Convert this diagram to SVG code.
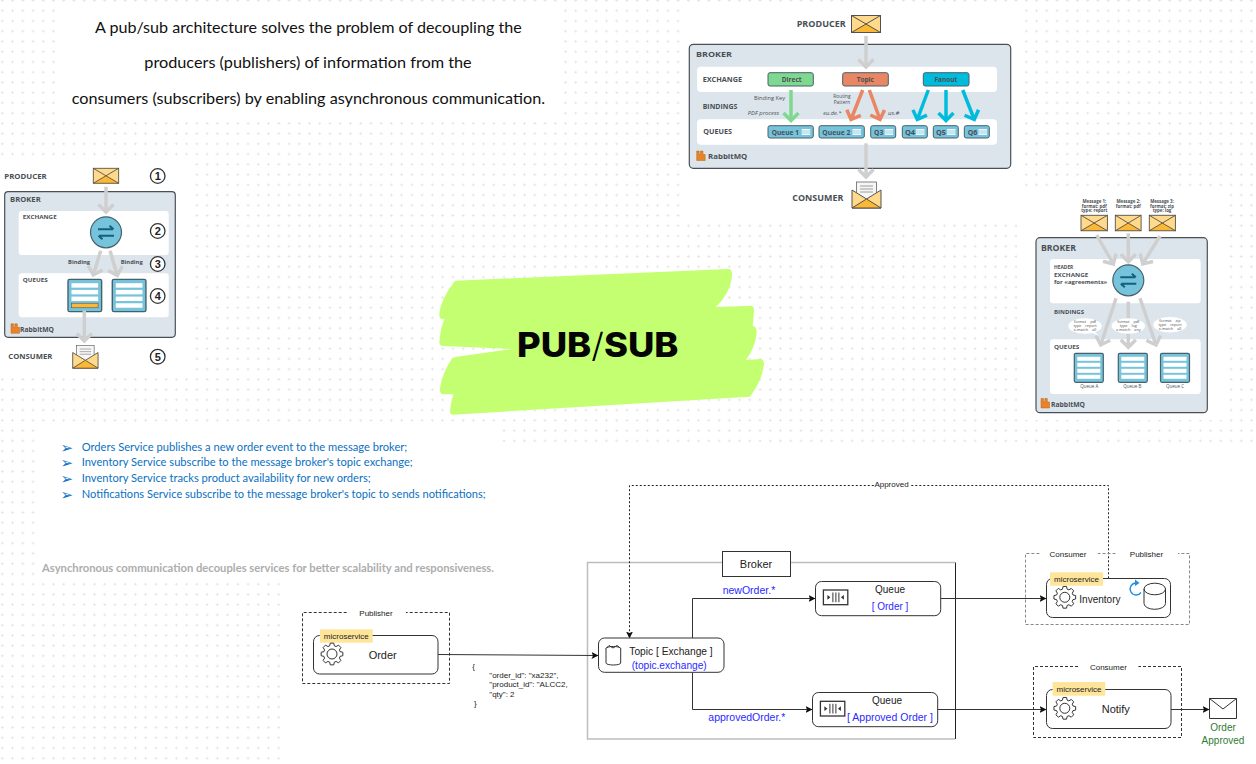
<svg xmlns="http://www.w3.org/2000/svg" width="1256" height="764" viewBox="0 0 1256 764">
<style>
.calibri{font-family:"Lato","Open Sans",sans-serif}
.sm{font-family:"Open Sans","Liberation Sans",sans-serif;font-weight:700;fill:#4a4f55}
.smr{font-family:"Open Sans","Liberation Sans",sans-serif;font-weight:400;fill:#4a4f55}
.lib{font-family:"Liberation Sans",Arial,sans-serif;fill:#222}
.blue{fill:#2a2aff}
.ctr{text-anchor:middle}
.broker{fill:#dde5ec;stroke:#4a4f55;stroke-width:1.2}
.band{fill:#fff}
.g{fill:none;stroke:#cfcfcf;stroke-width:3.500}
.ag{fill:none;stroke:#7fd88f;stroke-width:3.500}
.ao{fill:none;stroke:#e98663;stroke-width:3.500}
.ac{fill:none;stroke:#00bcdc;stroke-width:3.500}
.qbox{fill:#76c3dc;stroke:#47606a;stroke-width:1.2}
.wrow{fill:#fff}
.chip{fill:#76c3dc;stroke:#47606a;stroke-width:1}
.node{fill:#fff;stroke:#333;stroke-width:1}
.tag{fill:#ffe59a}
.wire{fill:none;stroke:#333;stroke-width:1}
.dash{fill:none;stroke:#333;stroke-width:1;stroke-dasharray:3 2}
.dashl{fill:none;stroke:#888;stroke-width:1;stroke-dasharray:3 2}
.dot{fill:none;stroke:#222;stroke-width:1;stroke-dasharray:2 2}
.ic{fill:none;stroke:#333;stroke-width:1}
.bul{font-family:"DejaVu Sans",sans-serif;font-size:15px}
</style>
<defs>
<pattern id="plus" width="10.24" height="10.24" patternUnits="userSpaceOnUse" patternTransform="translate(-2.82 -4.62)">
<path d="M5.12 3.62V6.62M3.62 5.12H6.62" stroke="#e6e6e6" stroke-width="1" fill="none"/>
</pattern>
<marker id="cg" markerUnits="userSpaceOnUse" markerWidth="11" markerHeight="18" viewBox="0 0 11 18" refX="9" refY="9" orient="auto" overflow="visible"><path d="M1.500 1.500L9 9L1.500 16.500" fill="none" stroke="#cfcfcf" stroke-width="3.500"/></marker>
<marker id="cgreen" markerUnits="userSpaceOnUse" markerWidth="11" markerHeight="18" viewBox="0 0 11 18" refX="9" refY="9" orient="auto" overflow="visible"><path d="M1.500 1.500L9 9L1.500 16.500" fill="none" stroke="#7fd88f" stroke-width="3.500"/></marker>
<marker id="cor" markerUnits="userSpaceOnUse" markerWidth="11" markerHeight="18" viewBox="0 0 11 18" refX="9" refY="9" orient="auto" overflow="visible"><path d="M1.500 1.500L9 9L1.500 16.500" fill="none" stroke="#e98663" stroke-width="3.500"/></marker>
<marker id="ccy" markerUnits="userSpaceOnUse" markerWidth="11" markerHeight="18" viewBox="0 0 11 18" refX="9" refY="9" orient="auto" overflow="visible"><path d="M1.500 1.500L9 9L1.500 16.500" fill="none" stroke="#00bcdc" stroke-width="3.500"/></marker>
<marker id="tri" markerUnits="userSpaceOnUse" markerWidth="7" markerHeight="7" viewBox="0 0 7 7" refX="6.500" refY="3.500" orient="auto"><path d="M0 0L7 3.500L0 7L1.500 3.500Z" fill="#111"/></marker>
<g id="env">
<rect x="0" y="0" width="29" height="17" fill="#ffd98c"/>
<path d="M0 17L14.500 8.500L29 17Z" fill="#fdb833"/>
<path d="M0 0L29 17M29 0L0 17" fill="none" stroke="#55504a" stroke-width="1"/>
<rect x="0" y="0" width="29" height="17" fill="none" stroke="#55504a" stroke-width="1"/>
</g>
<g id="envopen">
<rect x="4.500" y="-8" width="20" height="17" fill="#f6f6f6" stroke="#666" stroke-width=".8"/>
<path d="M8 -4H21M8 -1H21M8 2H21" stroke="#888" stroke-width=".8"/>
<path d="M0 0V18H29V0L14.500 9Z" fill="#ffd98c" stroke="#55504a" stroke-width="1"/>
<path d="M0 18L14.500 9L29 18Z" fill="#fdb833" stroke="#55504a" stroke-width="1"/>
</g>
<g id="swap">
<circle r="15.500" fill="#76c3dc" stroke="#47606a" stroke-width="1.200"/>
<path d="M-8 -3H7M3.500 -6.500L7.500 -3M8 3.500H-7M-3.500 7L-7.500 3.500" fill="none" stroke="#12607a" stroke-width="2"/>
</g>
<g id="rabbit"><path d="M0 0H2.500V3.500H3.800V0H6.300V3.500H8.500V9.500H0Z" fill="#e8832a" stroke="#b86519" stroke-width=".5"/></g>
<g id="queueimg">
<rect width="29" height="29" rx="1.500" class="qbox"/>
<rect x="3" y="3.500" width="23" height="4" class="wrow"/><rect x="3" y="9.500" width="23" height="4" class="wrow"/><rect x="3" y="15.500" width="23" height="4" class="wrow"/><rect x="3" y="21.500" width="23" height="4" class="wrow"/>
</g>
<g id="chiplines"><path d="M0 0H8.500V6H0Z" fill="#fff" opacity=".85"/><path d="M0 2H8.500M0 4H8.500" stroke="#76c3dc" stroke-width=".6"/></g>
<g id="gear">
<path d="M8.170 -2.340L10.860 -1.720L10.860 1.720L8.170 2.340L7.430 4.120L8.900 6.470L6.470 8.900L4.120 7.430L2.340 8.170L1.720 10.860L-1.720 10.860L-2.340 8.170L-4.120 7.430L-6.470 8.900L-8.900 6.470L-7.430 4.120L-8.170 2.340L-10.860 1.720L-10.860 -1.720L-8.170 -2.340L-7.430 -4.120L-8.900 -6.470L-6.470 -8.900L-4.120 -7.430L-2.340 -8.170L-1.720 -10.860L1.720 -10.860L2.340 -8.170L4.120 -7.430L6.470 -8.900L8.900 -6.470L7.430 -4.120Z" class="ic"/>
<circle r="5" class="ic"/>
</g>
<g id="qicon">
<rect width="24.400" height="14.700" class="ic" style="stroke-width:1.300"/>
<path d="M4 5L7 7.350L4 9.700Z" fill="#333"/><path d="M20.500 5L17.500 7.350L20.500 9.700Z" fill="#333"/>
<path d="M9.500 2.500V12.200M12.500 2.500V12.200M15.500 2.500V12.200" class="ic"/>
</g>
</defs>
<rect width="1256" height="764" fill="#fff"/>
<rect width="1256" height="764" fill="url(#plus)"/>
<g id="white-panels" fill="#fff">
<rect x="60" y="5" width="500" height="110"/>
<rect x="0" y="160" width="195" height="215"/>
<rect x="680" y="5" width="342" height="212"/>
<rect x="1017" y="190" width="211" height="230"/>
<rect x="36" y="427" width="464" height="155"/>
<rect x="285" y="447" width="971" height="317"/>
</g>

<g id="intro-text" class="calibri" font-size="16" fill="#111">
<text x="95" y="33.300" textLength="426.700" lengthAdjust="spacingAndGlyphs">A pub/sub architecture solves the problem of decoupling the</text>
<text x="144.300" y="68.300" textLength="327.400" lengthAdjust="spacingAndGlyphs">producers (publishers) of information from the</text>
<text x="71.700" y="104" textLength="473.300" lengthAdjust="spacingAndGlyphs">consumers (subscribers) by enabling asynchronous communication.</text>
</g>

<g id="bullets" class="calibri" font-size="11.500" fill="#0a70c2">
<text class="bul" x="60.500" y="452.500">➢</text><text x="81.700" y="450.700" textLength="325.600" lengthAdjust="spacingAndGlyphs">Orders Service publishes a new order event to the message broker;</text>
<text class="bul" x="60.500" y="468">➢</text><text x="81.700" y="466.300" textLength="331" lengthAdjust="spacingAndGlyphs">Inventory Service subscribe to the message broker's topic exchange;</text>
<text class="bul" x="60.500" y="484">➢</text><text x="81.700" y="482" textLength="289" lengthAdjust="spacingAndGlyphs">Inventory Service tracks product availability for new orders;</text>
<text class="bul" x="60.500" y="499.500">➢</text><text x="81.700" y="497.700" textLength="404" lengthAdjust="spacingAndGlyphs">Notifications Service subscribe to the message broker's topic to sends notifications;</text>
</g>
<text id="async-note" class="calibri" x="42" y="571.700" font-size="11" font-weight="700" fill="#adadad" textLength="452" lengthAdjust="spacingAndGlyphs">Asynchronous communication decouples services for better scalability and responsiveness.</text>

<g id="title">
<path transform="translate(430 265) scale(.3333)" fill="#c4ff72" d="M75 47L895 12Q908 12 906 35Q900 85 858 126L600 135L965 122Q973 124 972 140Q970 170 968 182Q982 185 980 205Q975 250 948 285L992 282Q1003 283 1002 300Q995 350 960 395L70 449Q60 450 60 438Q62 415 70 388L42 388Q28 388 30 370Q36 325 65 282Q70 276 80 275L245 252L40 243Q28 243 28 232Q30 195 43 162L35 162Q27 160 28 145Q33 100 75 47Z"/>
<text x="517" y="356.700" font-family="Inter,'Liberation Sans',sans-serif" font-size="33.500" font-weight="800" fill="#050505" textLength="161.500" lengthAdjust="spacingAndGlyphs">PUB<tspan font-weight="300">/</tspan>SUB</text>
</g>

<g id="rabbit-top">
<text class="sm" x="796.700" y="26.500" font-size="8" textLength="49" lengthAdjust="spacingAndGlyphs">PRODUCER</text>
<use href="#env" x="851.500" y="15.500"/>
<rect class="broker" x="689.300" y="44.300" width="321.400" height="124" rx="4"/>
<rect class="band" x="697" y="66.700" width="300" height="25.300" rx="4"/>
<rect class="band" x="697" y="119.300" width="300" height="25.400" rx="4"/>
<text class="sm" x="696" y="57.300" font-size="7.500" textLength="36" lengthAdjust="spacingAndGlyphs">BROKER</text>
<text class="sm" x="702.700" y="82" font-size="6.500" textLength="39.300" lengthAdjust="spacingAndGlyphs">EXCHANGE</text>
<text class="sm" x="702.700" y="108.700" font-size="6.500" textLength="34.600" lengthAdjust="spacingAndGlyphs">BINDINGS</text>
<text class="sm" x="703.300" y="134" font-size="6.500" textLength="28.700" lengthAdjust="spacingAndGlyphs">QUEUES</text>
<path class="g" d="M866 36V67" marker-end="url(#cg)"/>
<path class="ag" d="M791 90V120.500" marker-end="url(#cgreen)"/>
<path class="ao" d="M862.700 90L851 119.500" marker-end="url(#cor)"/>
<path class="ao" d="M869.300 90L880 119.500" marker-end="url(#cor)"/>
<path class="ac" d="M928.300 90L917.300 119.500" marker-end="url(#ccy)"/>
<path class="ac" d="M946 90V120.500" marker-end="url(#ccy)"/>
<path class="ac" d="M962.700 90L974.300 119.500" marker-end="url(#ccy)"/>
<rect x="768" y="72.700" width="45.300" height="13.300" rx="2" fill="#7fd88f" stroke="#47606a"/>
<rect x="842.700" y="72.700" width="45.600" height="13.300" rx="2" fill="#e98663" stroke="#47606a"/>
<rect x="923.300" y="72.700" width="45.700" height="13.300" rx="2" fill="#00bcdc" stroke="#47606a"/>
<text class="sm ctr" x="791.700" y="82.300" font-size="6.500">Direct</text>
<text class="sm ctr" x="865.300" y="82.300" font-size="6.500">Topic</text>
<text class="sm ctr" x="946" y="82.300" font-size="6.500">Fanout</text>
<text class="smr" x="754" y="99.500" font-size="4.800" textLength="31" lengthAdjust="spacingAndGlyphs">Binding Key</text>
<text class="smr" x="747.700" y="115" font-size="4.800" font-style="italic" textLength="31.300" lengthAdjust="spacingAndGlyphs">PDF process</text>
<text class="smr ctr" x="842" y="97.800" font-size="4.800">Routing</text>
<text class="smr ctr" x="842" y="104.200" font-size="4.800">Pattern</text>
<text class="smr" x="823.300" y="115" font-size="4.800" font-style="italic" textLength="18" lengthAdjust="spacingAndGlyphs">eu.de.*</text>
<text class="smr" x="888" y="115" font-size="4.800" font-style="italic" textLength="11.300" lengthAdjust="spacingAndGlyphs">us.#</text>
<rect class="chip" x="768" y="125.700" width="45.300" height="12.300" rx="2"/><text class="sm" x="771.700" y="134.500" font-size="6.500" textLength="27.300" lengthAdjust="spacingAndGlyphs">Queue 1</text><use href="#chiplines" x="801.700" y="129"/>
<rect class="chip" x="819" y="125.700" width="45.300" height="12.300" rx="2"/><text class="sm" x="822.300" y="134.500" font-size="6.500" textLength="28" lengthAdjust="spacingAndGlyphs">Queue 2</text><use href="#chiplines" x="852.500" y="129"/>
<rect class="chip" x="870.700" y="125.700" width="25" height="12.300" rx="2"/><text class="sm" x="874" y="134.500" font-size="6.500" textLength="9.300" lengthAdjust="spacingAndGlyphs">Q3</text><use href="#chiplines" x="884.700" y="129"/>
<rect class="chip" x="902.300" y="125.700" width="25" height="12.300" rx="2"/><text class="sm" x="905" y="134.500" font-size="6.500" textLength="10" lengthAdjust="spacingAndGlyphs">Q4</text><use href="#chiplines" x="916" y="129"/>
<rect class="chip" x="933.300" y="125.700" width="25" height="12.300" rx="2"/><text class="sm" x="936" y="134.500" font-size="6.500" textLength="10" lengthAdjust="spacingAndGlyphs">Q5</text><use href="#chiplines" x="947" y="129"/>
<rect class="chip" x="964.300" y="125.700" width="25" height="12.300" rx="2"/><text class="sm" x="967.700" y="134.500" font-size="6.500" textLength="9.600" lengthAdjust="spacingAndGlyphs">Q6</text><use href="#chiplines" x="978.500" y="129"/>
<use href="#rabbit" x="696.700" y="151"/>
<text class="sm" x="708" y="159" font-size="7.500" textLength="39.300" lengthAdjust="spacingAndGlyphs">RabbitMQ</text>
<path class="g" d="M866 143.300V177" marker-end="url(#cg)"/>
<use href="#envopen" x="852" y="190"/>
<text class="sm" x="792.300" y="200.700" font-size="8" textLength="51" lengthAdjust="spacingAndGlyphs">CONSUMER</text>
</g>

<g id="rabbit-left">
<text class="sm" x="4.300" y="178.500" font-size="7" textLength="42.400" lengthAdjust="spacingAndGlyphs">PRODUCER</text>
<use href="#env" transform="translate(93.300 168.300) scale(.875 .88)"/>
<rect class="broker" x="4.700" y="191.700" width="170.600" height="145.600" rx="3.500"/>
<rect class="band" x="18.700" y="211" width="150" height="44" rx="3"/>
<rect class="band" x="18.700" y="273.300" width="150" height="44" rx="3"/>
<text class="sm" x="10" y="202" font-size="6.500" textLength="30.700" lengthAdjust="spacingAndGlyphs">BROKER</text>
<text class="sm" x="22.700" y="218.500" font-size="5.500" textLength="34" lengthAdjust="spacingAndGlyphs">EXCHANGE</text>
<text class="sm" x="68" y="264" font-size="5.500" textLength="22" lengthAdjust="spacingAndGlyphs">Binding</text>
<text class="sm" x="120.700" y="264" font-size="5.500" textLength="22" lengthAdjust="spacingAndGlyphs">Binding</text>
<text class="sm" x="22.700" y="281.500" font-size="5.500" textLength="25" lengthAdjust="spacingAndGlyphs">QUEUES</text>
<path class="g" d="M106 186.700V212" marker-end="url(#cg)"/>
<use href="#swap" x="106" y="232.300"/>
<path class="g" d="M100.700 250.700L93.300 275" marker-end="url(#cg)"/>
<path class="g" d="M110 250.700L117.300 275.500" marker-end="url(#cg)"/>
<g transform="translate(68 279.300) scale(1.160 1.115)"><use href="#queueimg"/><rect x="3" y="21.500" width="23" height="4" fill="#fdb833" stroke="#47606a" stroke-width=".6"/></g>
<use href="#queueimg" transform="translate(112.300 279.300) scale(1.160 1.115)"/>
<use href="#rabbit" x="11" y="323.800"/>
<text class="sm" x="20" y="331.700" font-size="6.500" textLength="34" lengthAdjust="spacingAndGlyphs">RabbitMQ</text>
<path class="g" d="M84.300 310.700V341" marker-end="url(#cg)"/>
<use href="#envopen" transform="translate(72.700 352.500) scale(.875 .87)"/>
<text class="sm" x="8.300" y="359" font-size="7" textLength="44" lengthAdjust="spacingAndGlyphs">CONSUMER</text>
<g fill="#fff" stroke="#333" stroke-width="1.300"><circle cx="157.700" cy="176" r="7.300"/><circle cx="157.700" cy="231" r="7.300"/><circle cx="157.700" cy="264" r="7.300"/><circle cx="157.700" cy="296" r="7.300"/><circle cx="157.700" cy="356.700" r="7.300"/></g>
<g class="lib ctr" font-size="11" font-weight="700"><text x="157.700" y="180">1</text><text x="157.700" y="235">2</text><text x="157.700" y="268">3</text><text x="157.700" y="300">4</text><text x="157.700" y="360.700">5</text></g>
</g>

<g id="rabbit-right">
<g class="sm ctr" font-size="4.400">
<text x="1094.300" y="203">Message 1:</text><text x="1094.300" y="207.800">format: pdf</text><text x="1094.300" y="212.400">type: report</text>
<text x="1128.300" y="203">Message 2:</text><text x="1128.300" y="207.800">format: pdf</text>
<text x="1162" y="203">Message 3:</text><text x="1162" y="207.800">format: zip</text><text x="1162" y="212.400">type: log</text>
</g>
<use href="#env" transform="translate(1081 215.300) scale(.91)"/>
<use href="#env" transform="translate(1115.300 215.300) scale(.89 .91)"/>
<use href="#env" transform="translate(1149.300 215.300) scale(.9 .91)"/>
<rect class="broker" x="1036" y="237.700" width="171.300" height="175" rx="4"/>
<rect class="band" x="1050" y="259" width="150.700" height="44.300" rx="3"/>
<rect class="band" x="1050" y="339.300" width="150.700" height="54.700" rx="3"/>
<path class="g" d="M1096.700 235L1113.300 264" marker-end="url(#cg)"/>
<path class="g" d="M1128.300 233.300V261.700" marker-end="url(#cg)"/>
<path class="g" d="M1160 236L1142.700 264" marker-end="url(#cg)"/>
<text class="sm" x="1041" y="250.700" font-size="8" textLength="35" lengthAdjust="spacingAndGlyphs">BROKER</text>
<text class="sm" x="1054" y="269.300" font-size="5.800" textLength="19.300" lengthAdjust="spacingAndGlyphs">HEADER</text>
<text class="sm" x="1054" y="276.700" font-size="5.800" textLength="34.300" lengthAdjust="spacingAndGlyphs">EXCHANGE</text>
<text class="sm" x="1054" y="284.300" font-size="5.800" textLength="53.300" lengthAdjust="spacingAndGlyphs">for «agreements»</text>
<text class="sm" x="1054" y="314.300" font-size="5.800" textLength="30" lengthAdjust="spacingAndGlyphs">BINDINGS</text>
<text class="sm" x="1054" y="349" font-size="5.800" textLength="25.300" lengthAdjust="spacingAndGlyphs">QUEUES</text>
<path class="g" d="M1116 298.300L1100.700 345" marker-end="url(#cg)"/>
<path class="g" d="M1128.300 301.700V347.300" marker-end="url(#cg)"/>
<path class="g" d="M1140 298.300L1156 345" marker-end="url(#cg)"/>
<use href="#swap" x="1128.300" y="280.300"/>
<ellipse cx="1085" cy="326" rx="16.700" ry="7.700" fill="#fff"/><path d="M1094 331L1099 336L1090 332Z" fill="#fff"/>
<ellipse cx="1128.300" cy="326" rx="16.700" ry="7.700" fill="#fff"/>
<ellipse cx="1170" cy="324.700" rx="16.700" ry="7.700" fill="#fff"/>
<g class="smr ctr" font-size="3.800">
<text x="1085" y="323">format = pdf</text><text x="1085" y="327">type = report</text><text x="1085" y="331">x-match = all</text>
<text x="1128.300" y="323">format = pdf</text><text x="1128.300" y="327">type = log</text><text x="1128.300" y="331">x-match = any</text>
<text x="1170" y="322">format = zip</text><text x="1170" y="326">type = report</text><text x="1170" y="330">x-match = all</text>
</g>
<use href="#queueimg" x="1074.300" y="353.300"/>
<use href="#queueimg" x="1118.300" y="353.300"/>
<use href="#queueimg" x="1160.500" y="353.300"/>
<g class="smr ctr" font-size="4.500"><text x="1089.300" y="387.800">Queue A</text><text x="1132.300" y="387.800">Queue B</text><text x="1175" y="387.800">Queue C</text></g>
<use href="#rabbit" x="1041" y="398.500"/>
<text class="sm" x="1051" y="406.700" font-size="6.500" textLength="34" lengthAdjust="spacingAndGlyphs">RabbitMQ</text>
</g>

<g id="broker-frame">
<path d="M722 562.500H587.500V739H955" fill="none" stroke="#bdbdbd" stroke-width="1.500"/>
<path d="M790 562.500H955" fill="none" stroke="#bdbdbd" stroke-width="1.500"/>
<path d="M955.500 562.500V739" fill="none" stroke="#222" stroke-width="1"/>
<rect x="722.500" y="551.500" width="68" height="25" fill="#fff" stroke="#333"/>
<text class="lib ctr" x="756" y="567.800" font-size="11">Broker</text>
</g>

<g id="connectors">
<path class="wire" d="M438 654.500L598 655.500" marker-end="url(#tri)"/>
<path class="wire" d="M692.500 638V598.500H815" marker-end="url(#tri)"/>
<path class="wire" d="M692.500 672.300V709.500H812" marker-end="url(#tri)"/>
<path class="wire" d="M940.700 598.500H1046" marker-end="url(#tri)"/>
<path class="wire" d="M937.700 709.500H1046" marker-end="url(#tri)"/>
<path class="wire" d="M1171 709.500H1209" marker-end="url(#tri)"/>
<path class="dot" d="M1108.500 578.300V485.500H909.300M873.800 485.500H629.500V638" marker-end="url(#tri)"/>
<text class="lib ctr" x="891.500" y="487" font-size="8">Approved</text>
<text class="lib blue" x="722.700" y="594" font-size="10.500">newOrder.*</text>
<text class="lib blue" x="708.300" y="720.500" font-size="10.500">approvedOrder.*</text>
<g class="lib" font-size="8">
<text x="472.300" y="669">{</text>
<text x="489.300" y="677.500">"order_id": "xa232",</text>
<text x="489.300" y="686.500">"product_id": "ALCC2,</text>
<text x="489.300" y="696.500">"qty": 2</text>
<text x="474" y="706">}</text>
</g>
</g>

<g id="node-order">
<path class="dash" d="M346.700 612.500H302.500V683.500H449.500V612.500H406"/>
<text class="lib ctr" x="376" y="615.500" font-size="8">Publisher</text>
<rect class="node" x="313.500" y="635.500" width="124.500" height="38.500" rx="6"/>
<rect class="tag" x="320" y="629.300" width="52.700" height="13.400"/>
<text class="lib ctr" x="346.300" y="639" font-size="8">microservice</text>
<use href="#gear" x="332" y="654"/>
<text class="lib ctr" x="382.700" y="658.500" font-size="11">Order</text>
</g>

<g id="node-topic">
<rect class="node" x="598.500" y="638" width="125.500" height="34.300" rx="6"/>
<path class="ic" d="M606 648.500V663A7.300 2 0 0 0 620.700 663V648.500A7.300 2 0 0 0 606 648.500ZM606 648.500L609 645.500L613 648L617 645.500L620.700 648.500"/>
<text class="lib" x="629.300" y="654.700" font-size="11" textLength="83.400" lengthAdjust="spacingAndGlyphs">Topic [ Exchange ]</text>
<text class="lib blue" x="631.700" y="669" font-size="11" textLength="75" lengthAdjust="spacingAndGlyphs">(topic.exchange)</text>
</g>

<g id="node-queue-order">
<rect class="node" x="815.500" y="581.500" width="125.200" height="34.200" rx="6"/>
<use href="#qicon" x="823.400" y="590"/>
<text class="lib ctr" x="890" y="593" font-size="10">Queue</text>
<text class="lib blue ctr" x="890" y="610" font-size="10">[ Order ]</text>
</g>

<g id="node-queue-approved">
<rect class="node" x="812.500" y="692.500" width="125.200" height="34.200" rx="6"/>
<use href="#qicon" x="820.400" y="701.300"/>
<text class="lib ctr" x="887" y="704" font-size="10">Queue</text>
<text class="lib blue ctr" x="890" y="721" font-size="10.500">[ Approved Order ]</text>
</g>

<g id="node-inventory">
<path class="dashl" d="M1039.400 553.500H1025.500V624.500H1189.500V553.500H1178M1115.500 553.500H1097.900"/>
<text class="lib ctr" x="1068" y="557.300" font-size="8">Consumer</text>
<text class="lib ctr" x="1146.500" y="557.300" font-size="8">Publisher</text>
<rect class="node" x="1046.500" y="578.500" width="124" height="39" rx="6"/>
<rect class="tag" x="1050" y="572.300" width="53" height="13.400"/>
<text class="lib ctr" x="1076.500" y="582" font-size="8">microservice</text>
<use href="#gear" x="1064.800" y="597.300"/>
<text class="lib" x="1079.300" y="602.700" font-size="10.500" textLength="41.200" lengthAdjust="spacingAndGlyphs">Inventory</text>
<path d="M1141 592.500A6 6 0 1 1 1136 583" fill="none" stroke="#1f8fe6" stroke-width="1.400"/>
<path d="M1135 579.500L1139.500 583L1135 586Z" fill="#1f8fe6"/>
<path class="ic" d="M1144 589V603.500A10.750 5.800 0 0 0 1165.500 603.500V589A10.750 5.800 0 0 0 1144 589A10.750 5.800 0 0 0 1165.500 589"/>
</g>

<g id="node-notify">
<path class="dash" d="M1078 666.500H1033.500V737.500H1181.500V666.500H1138.400"/>
<text class="lib ctr" x="1108.400" y="669.500" font-size="8">Consumer</text>
<rect class="node" x="1046.500" y="689.500" width="124.500" height="39" rx="6"/>
<rect class="tag" x="1052.600" y="682" width="52.700" height="13.700"/>
<text class="lib ctr" x="1079" y="691.500" font-size="8">microservice</text>
<use href="#gear" x="1064.800" y="708.300"/>
<text class="lib ctr" x="1115.800" y="713" font-size="11">Notify</text>
</g>

<g id="node-approved">
<path d="M1209.500 698.500H1236.500V718.500H1209.500ZM1209.500 698.500L1223 709L1236.500 698.500" fill="#fff" stroke="#333" stroke-width="1"/>
<text class="lib ctr" x="1223" y="731" font-size="10" style="fill:#2e7d32">Order</text>
<text class="lib ctr" x="1223" y="744" font-size="10" style="fill:#2e7d32">Approved</text>
</g>
</svg>
